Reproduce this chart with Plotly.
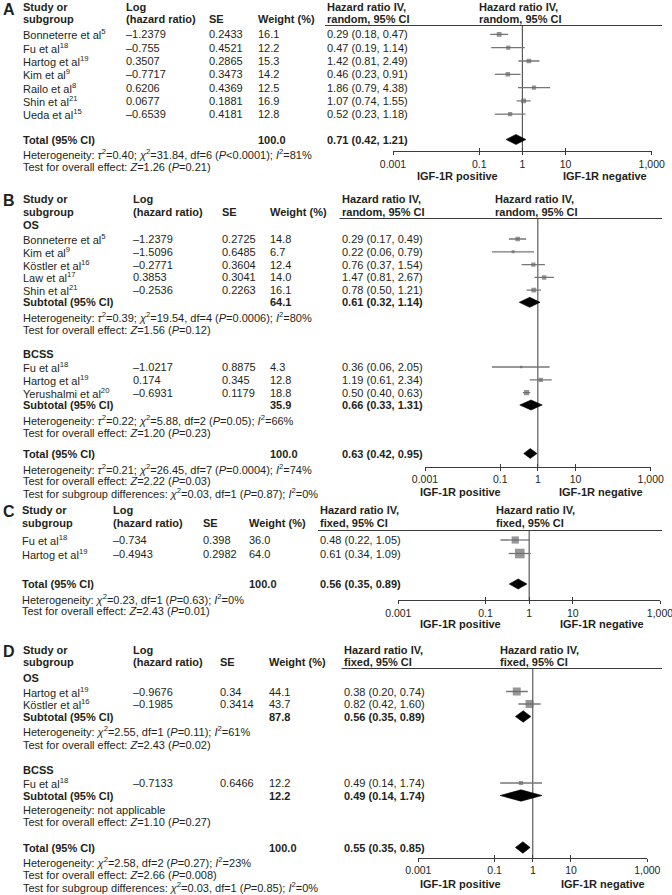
import plotly.graph_objects as go

W, H = 672, 895
FONT = "Liberation Sans, Arial, Helvetica, sans-serif"
INK = "#231f20"
BOX = "#6a6a6a"
CIC = "#767676"
RULE = "#3a3a3a"
FS = 11

TICK_VALS = [0.001, 0.1, 1, 10, 1000]
TICK_TEXT = ["0.001", "0.1", "1", "10", "1,000"]
FAVOURS = ["IGF-1R positive", "IGF-1R negative"]

# ---------------- Panel A (random) ----------------
A_STUDY = ["Bonneterre et al<sup>5</sup>", "Fu et al<sup>18</sup>", "Hartog et al<sup>19</sup>",
           "Kim et al<sup>9</sup>", "Railo et al<sup>8</sup>", "Shin et al<sup>21</sup>", "Ueda et al<sup>15</sup>"]
A_LOGHR = [-1.2379, -0.755, 0.3507, -0.7717, 0.6206, 0.0677, -0.6539]
A_SE = [0.2433, 0.4521, 0.2865, 0.3473, 0.4369, 0.1881, 0.4181]
A_WEIGHT = [16.1, 12.2, 15.3, 14.2, 12.5, 16.9, 12.8]
A_HR = [0.29, 0.47, 1.42, 0.46, 1.86, 1.07, 0.52]
A_LO = [0.18, 0.19, 0.81, 0.23, 0.79, 0.74, 0.23]
A_HI = [0.47, 1.14, 2.49, 0.91, 4.38, 1.55, 1.18]
A_TOTAL = [100.0, 0.71, 0.42, 1.21]
A_HET = "Heterogeneity: <i>τ</i><sup>2</sup>=0.40; <i>χ</i><sup>2</sup>=31.84, df=6 (<i>P</i>&lt;0.0001); <i>I</i><sup>2</sup>=81%"
A_Z = "Test for overall effect: <i>Z</i>=1.26 (<i>P</i>=0.21)"

# ---------------- Panel B (random) ----------------
B_OS_STUDY = ["Bonneterre et al<sup>5</sup>", "Kim et al<sup>9</sup>", "Köstler et al<sup>16</sup>",
              "Law et al<sup>17</sup>", "Shin et al<sup>21</sup>"]
B_OS_LOGHR = [-1.2379, -1.5096, -0.2771, 0.3853, -0.2536]
B_OS_SE = [0.2725, 0.6485, 0.3604, 0.3041, 0.2263]
B_OS_WEIGHT = [14.8, 6.7, 12.4, 14.0, 16.1]
B_OS_HR = [0.29, 0.22, 0.76, 1.47, 0.78]
B_OS_LO = [0.17, 0.06, 0.37, 0.81, 0.50]
B_OS_HI = [0.49, 0.79, 1.54, 2.67, 1.21]
B_OS_SUB = [64.1, 0.61, 0.32, 1.14]
B_OS_HET = "Heterogeneity: <i>τ</i><sup>2</sup>=0.39; <i>χ</i><sup>2</sup>=19.54, df=4 (<i>P</i>=0.0006); <i>I</i><sup>2</sup>=80%"
B_OS_Z = "Test for overall effect: <i>Z</i>=1.56 (<i>P</i>=0.12)"

B_BC_STUDY = ["Fu et al<sup>18</sup>", "Hartog et al<sup>19</sup>", "Yerushalmi et al<sup>20</sup>"]
B_BC_LOGHR = [-1.0217, 0.174, -0.6931]
B_BC_SE = [0.8875, 0.345, 0.1179]
B_BC_WEIGHT = [4.3, 12.8, 18.8]
B_BC_HR = [0.36, 1.19, 0.50]
B_BC_LO = [0.06, 0.61, 0.40]
B_BC_HI = [2.05, 2.34, 0.63]
B_BC_SUB = [35.9, 0.66, 0.33, 1.31]
B_BC_HET = "Heterogeneity: <i>τ</i><sup>2</sup>=0.22; <i>χ</i><sup>2</sup>=5.88, df=2 (<i>P</i>=0.05); <i>I</i><sup>2</sup>=66%"
B_BC_Z = "Test for overall effect: <i>Z</i>=1.20 (<i>P</i>=0.23)"

B_TOTAL = [100.0, 0.63, 0.42, 0.95]
B_HET = "Heterogeneity: <i>τ</i><sup>2</sup>=0.21; <i>χ</i><sup>2</sup>=26.45, df=7 (<i>P</i>=0.0004); <i>I</i><sup>2</sup>=74%"
B_Z = "Test for overall effect: <i>Z</i>=2.22 (<i>P</i>=0.03)"
B_SUBDIFF = "Test for subgroup differences: <i>χ</i><sup>2</sup>=0.03, df=1 (<i>P</i>=0.87); <i>I</i><sup>2</sup>=0%"

# ---------------- Panel C (fixed) ----------------
C_STUDY = ["Fu et al<sup>18</sup>", "Hartog et al<sup>19</sup>"]
C_LOGHR = [-0.734, -0.4943]
C_SE = [0.398, 0.2982]
C_WEIGHT = [36.0, 64.0]
C_HR = [0.48, 0.61]
C_LO = [0.22, 0.34]
C_HI = [1.05, 1.09]
C_TOTAL = [100.0, 0.56, 0.35, 0.89]
C_HET = "Heterogeneity: <i>χ</i><sup>2</sup>=0.23, df=1 (<i>P</i>=0.63); <i>I</i><sup>2</sup>=0%"
C_Z = "Test for overall effect: <i>Z</i>=2.43 (<i>P</i>=0.01)"

# ---------------- Panel D (fixed) ----------------
D_OS_STUDY = ["Hartog et al<sup>19</sup>", "Köstler et al<sup>16</sup>"]
D_OS_LOGHR = [-0.9676, -0.1985]
D_OS_SE = [0.34, 0.3414]
D_OS_WEIGHT = [44.1, 43.7]
D_OS_HR = [0.38, 0.82]
D_OS_LO = [0.20, 0.42]
D_OS_HI = [0.74, 1.60]
D_OS_SUB = [87.8, 0.56, 0.35, 0.89]
D_OS_HET = "Heterogeneity: <i>χ</i><sup>2</sup>=2.55, df=1 (<i>P</i>=0.11); <i>I</i><sup>2</sup>=61%"
D_OS_Z = "Test for overall effect: <i>Z</i>=2.43 (<i>P</i>=0.02)"

D_BC_STUDY = ["Fu et al<sup>18</sup>"]
D_BC_LOGHR = [-0.7133]
D_BC_SE = [0.6466]
D_BC_WEIGHT = [12.2]
D_BC_HR = [0.49]
D_BC_LO = [0.14]
D_BC_HI = [1.74]
D_BC_SUB = [12.2, 0.49, 0.14, 1.74]
D_BC_HET = "Heterogeneity: not applicable"
D_BC_Z = "Test for overall effect: <i>Z</i>=1.10 (<i>P</i>=0.27)"

D_TOTAL = [100.0, 0.55, 0.35, 0.85]
D_HET = "Heterogeneity: <i>χ</i><sup>2</sup>=2.58, df=2 (<i>P</i>=0.27); <i>I</i><sup>2</sup>=23%"
D_Z = "Test for overall effect: <i>Z</i>=2.66 (<i>P</i>=0.008)"
D_SUBDIFF = "Test for subgroup differences: <i>χ</i><sup>2</sup>=0.03, df=1 (<i>P</i>=0.85); <i>I</i><sup>2</sup>=0%"

# =====================================================================
fig = go.Figure()
ann = []
shapes = []
layout_axes = {}


def T(x, y, s, bold=False, size=FS, anchor="left", yanchor="middle", pad=1):
    if bold:
        s = f"<b>{s}</b>"
    ann.append(dict(x=x / W, y=1 - y / H, xref="paper", yref="paper", text=s,
                    showarrow=False, xanchor=anchor, yanchor=yanchor, borderpad=pad,
                    font=dict(size=size, color=INK, family=FONT)))


def fnum(v):
    return repr(v).replace("-", "\u2013")


def fci(hr, lo, hi):
    return f"{hr:.2f} ({lo:.2f}, {hi:.2f})"


class Panel:
    def __init__(self, idx, letter, model, cols, hdr, rule, axis, favours):
        self.idx = idx
        self.xid = "x" if idx == 1 else f"x{idx}"
        self.cols = cols
        self.ci_x, self.ci_y = [], []
        self.bx, self.by, self.bs = [], [], []
        c = cols
        y1, y2 = hdr
        T(2, max(y1 - 8, 0), letter, bold=True, size=16, yanchor="top", pad=0)
        T(c[0], y1, "Study or", True)
        T(c[0], y2, "subgroup", True)
        T(c[1], y1, "Log", True)
        T(c[1], y2, "(hazard ratio)", True)
        T(c[2], y2, "SE", True)
        T(c[3], y2, "Weight (%)", True)
        for x in (c[4], c[5]):
            T(x, y1, "Hazard ratio IV,", True)
            T(x, y2, f"{model}, 95% CI", True)
        rx0, rx1, ry = rule
        shapes.append(dict(type="line", xref="paper", yref="paper",
                           x0=rx0 / W, x1=rx1 / W, y0=1 - ry / H, y1=1 - ry / H,
                           line=dict(color=RULE, width=1)))
        ax0, ax1, ay = axis
        common = dict(type="log", range=[-3, 3], domain=[ax0 / W, ax1 / W],
                      anchor="free", position=1 - ay / H, tickvals=TICK_VALS,
                      showgrid=False, zeroline=False, fixedrange=True)
        key = "xaxis" if idx == 1 else f"xaxis{idx}"
        layout_axes[key] = dict(**common, ticktext=TICK_TEXT, ticks="outside", ticklen=3,
                                tickwidth=1, tickcolor=RULE, showline=True, linecolor=RULE,
                                linewidth=1, ticklabeloverflow="allow",
                                tickfont=dict(size=10.5, color=INK, family=FONT))
        layout_axes[f"xaxis{idx + 4}"] = dict(**common, overlaying=self.xid, ticks="inside",
                                              ticklen=3, tickwidth=1, tickcolor=RULE,
                                              showticklabels=False, showline=False)
        fig.add_trace(go.Scatter(x=[1], y=[-50], xaxis=f"x{idx + 4}", yaxis="y", mode="markers",
                                 marker=dict(opacity=0), hoverinfo="skip", showlegend=False))
        # line of no effect
        fig.add_trace(go.Scatter(x=[1, 1], y=[ry, ay], mode="lines", xaxis=self.xid, yaxis="y",
                                 line=dict(color=RULE, width=1), hoverinfo="skip", showlegend=False))
        fx0, fx1, fy = favours
        T(fx0, fy, FAVOURS[0], True, anchor="center")
        T(fx1, fy, FAVOURS[1], True, anchor="center")

    def studies(self, ys, names, logs, ses, ws, hrs, los, his):
        c = self.cols
        for y, n, lg, se, w, hr, lo, hi in zip(ys, names, logs, ses, ws, hrs, los, his):
            T(c[0], y, n)
            T(c[1], y, fnum(lg))
            T(c[2], y, fnum(se))
            T(c[3], y, f"{w:.1f}")
            T(c[4], y, fci(hr, lo, hi))
            self.ci_x += [lo, hi, None]
            self.ci_y += [y, y, None]
            self.bx.append(hr)
            self.by.append(y)
            self.bs.append(max(2.5, 1.2 * w ** 0.5))

    def pooled(self, y, label, vals, half=5.0):
        w, hr, lo, hi = vals
        c = self.cols
        T(c[0], y, label, True)
        T(c[3], y, f"{w:.1f}", True)
        T(c[4], y, fci(hr, lo, hi), True)
        fig.add_trace(go.Scatter(x=[lo, hr, hi, hr, lo], y=[y, y - half, y, y + half, y],
                                 mode="lines", fill="toself", fillcolor="black",
                                 line=dict(color="black", width=0.6), xaxis=self.xid, yaxis="y",
                                 hoverinfo="skip", showlegend=False))

    def note(self, y, s, bold=False):
        T(self.cols[0], y, s, bold)

    def finish(self):
        fig.add_trace(go.Scatter(x=self.ci_x, y=self.ci_y, mode="lines", xaxis=self.xid, yaxis="y",
                                 line=dict(color=CIC, width=1.3), hoverinfo="skip", showlegend=False))
        fig.add_trace(go.Scatter(x=self.bx, y=self.by, mode="markers", xaxis=self.xid, yaxis="y",
                                 marker=dict(symbol="square", size=self.bs, color=BOX, line=dict(width=0)),
                                 hoverinfo="skip", showlegend=False))


def rows(start, step, n):
    return [start + step * i for i in range(n)]


# ---- A ----
pa = Panel(1, "A", "random", cols=(21, 124, 206.7, 256, 325, 476.7), hdr=(7, 19),
           rule=(325, 662, 25.5), axis=(393, 651.7, 151), favours=(457.5, 604.5, 176))
pa.studies(rows(34.4, 13.3, len(A_STUDY)), A_STUDY, A_LOGHR, A_SE, A_WEIGHT, A_HR, A_LO, A_HI)
pa.pooled(139.5, "Total (95% CI)", A_TOTAL)
pa.note(154, A_HET)
pa.note(167, A_Z)
pa.finish()

# ---- B ----
pb = Panel(2, "B", "random", cols=(21, 131, 220, 268.3, 339.5, 493), hdr=(198.5, 211.5),
           rule=(339.5, 662, 218.5), axis=(425, 650.7, 466.7), favours=(460, 600.7, 492))
pb.note(225.5, "OS", True)
pb.studies(rows(239, 12.8, len(B_OS_STUDY)), B_OS_STUDY, B_OS_LOGHR, B_OS_SE, B_OS_WEIGHT,
           B_OS_HR, B_OS_LO, B_OS_HI)
pb.pooled(302.3, "Subtotal (95% CI)", B_OS_SUB)
pb.note(316.8, B_OS_HET)
pb.note(329.5, B_OS_Z)
pb.note(354, "BCSS", True)
pb.studies(rows(367, 12.8, len(B_BC_STUDY)), B_BC_STUDY, B_BC_LOGHR, B_BC_SE, B_BC_WEIGHT,
           B_BC_HR, B_BC_LO, B_BC_HI)
pb.pooled(405, "Subtotal (95% CI)", B_BC_SUB)
pb.note(419.5, B_BC_HET)
pb.note(432.5, B_BC_Z)
pb.pooled(453.5, "Total (95% CI)", B_TOTAL)
pb.note(468.5, B_HET)
pb.note(481, B_Z)
pb.note(493.5, B_SUBDIFF)
pb.finish()

# ---- C ----
pc = Panel(3, "C", "fixed", cols=(20, 110.6, 201.4, 247.3, 318, 493.7), hdr=(510, 523),
           rule=(318, 662, 530.5), axis=(398.3, 660, 600), favours=(460.8, 601.7, 623.5))
pc.studies(rows(540, 13.5, len(C_STUDY)), C_STUDY, C_LOGHR, C_SE, C_WEIGHT, C_HR, C_LO, C_HI)
pc.pooled(584, "Total (95% CI)", C_TOTAL)
pc.note(598.5, C_HET)
pc.note(611, C_Z)
pc.finish()

# ---- D ----
pd_ = Panel(4, "D", "fixed", cols=(21, 131, 218, 266.7, 341.6, 498), hdr=(650, 661.5),
            rule=(341.6, 662, 668.5), axis=(418.3, 647.3, 857.7), favours=(460, 602.5, 884))
pd_.note(678, "OS", True)
pd_.studies(rows(691.5, 12.5, len(D_OS_STUDY)), D_OS_STUDY, D_OS_LOGHR, D_OS_SE, D_OS_WEIGHT,
            D_OS_HR, D_OS_LO, D_OS_HI)
pd_.pooled(716.5, "Subtotal (95% CI)", D_OS_SUB, half=5.7)
pd_.note(731, D_OS_HET)
pd_.note(745, D_OS_Z)
pd_.note(769.5, "BCSS", True)
pd_.studies(rows(783, 12.5, len(D_BC_STUDY)), D_BC_STUDY, D_BC_LOGHR, D_BC_SE, D_BC_WEIGHT,
            D_BC_HR, D_BC_LO, D_BC_HI)
pd_.pooled(795.5, "Subtotal (95% CI)", D_BC_SUB, half=5.7)
pd_.note(810, D_BC_HET)
pd_.note(822, D_BC_Z)
pd_.pooled(847.5, "Total (95% CI)", D_TOTAL, half=5.7)
pd_.note(862, D_HET)
pd_.note(874.5, D_Z)
pd_.note(887, D_SUBDIFF)
pd_.finish()

fig.update_layout(
    template="none",
    width=W, height=H,
    margin=dict(l=0, r=0, t=0, b=0),
    paper_bgcolor="white", plot_bgcolor="rgba(0,0,0,0)",
    showlegend=False,
    hovermode=False,
    font=dict(family=FONT, size=FS, color=INK),
    yaxis=dict(range=[H, 0], domain=[0, 1], visible=False, fixedrange=True,
               showgrid=False, zeroline=False),
    annotations=ann,
    shapes=shapes,
    **layout_axes,
)

fig.write_html("out.html",
               config={"displayModeBar": False, "staticPlot": True},
               post_script="document.body.style.margin='0';document.body.style.overflow='hidden';")
